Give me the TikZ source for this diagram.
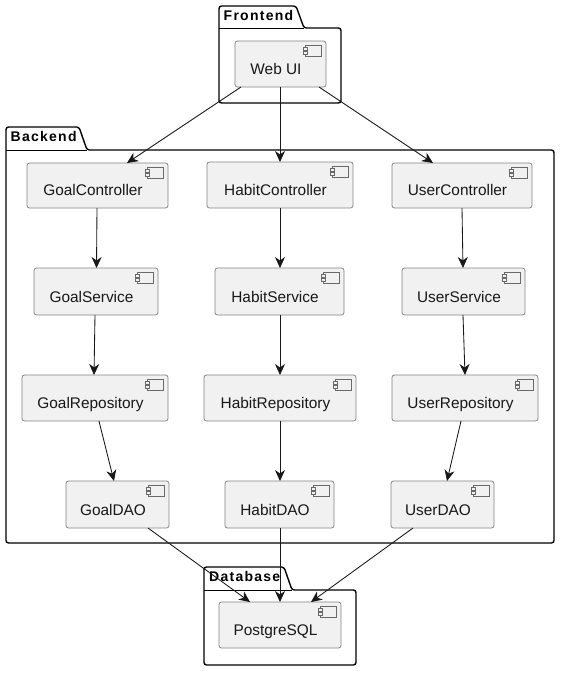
\documentclass[tikz,border=0pt]{standalone}
\usepackage{fontspec}
\setmainfont{Liberation Sans}
\newfontfamily\pkgfont[LetterSpace=9]{Liberation Sans}
\usetikzlibrary{arrows.meta,calc}
\definecolor{compfill}{HTML}{F1F1F1}
\definecolor{compline}{HTML}{858585}
\definecolor{inkdark}{HTML}{181818}
\tikzset{
  compbox/.style={draw=compline,fill=compfill,line width=0.8pt,rounded corners=2.5pt,inner sep=0pt,outer sep=0pt},
  complabel/.style={anchor=base,inner sep=0pt,font=\fontsize{15.4}{18}\selectfont,text=inkdark},
  compicon/.style={draw=inkdark!65,line width=0.6pt,fill=compfill},
  pkgframe/.style={draw=black,line width=1.4pt,fill=white,rounded corners=2.5pt},
  pkglabel/.style={anchor=base west,inner sep=0pt,font=\pkgfont\bfseries\fontsize{14}{16}\selectfont,text=black},
  conn/.style={draw=inkdark,line width=0.85pt,-{Stealth[length=11pt,width=10pt,inset=3.5pt]}},
}
% name, x0, y0, x1, y1, label
\newcommand{\compnode}[6]{%
  \node[compbox,minimum width={(#4-#2)*1pt},minimum height={(#5-#3)*1pt}] (#1) at ({(#2+#4)/2},{(#3+#5)/2}) {};
  \node[complabel] (#1-label) at ({(#2+#4)/2-4.5},{#5-13}) {#6};
  \path[compicon] ({#4-20.5},{#3+4.5}) rectangle ({#4-4.5},{#3+15});
  \path[compicon] ({#4-22.5},{#3+6.5}) rectangle ({#4-18.5},{#3+9.5});
  \path[compicon] ({#4-22.5},{#3+10.5}) rectangle ({#4-18.5},{#3+13.5});
}
% x0, tabtop, tabright, bodytop, x1, y1
\newcommand{\pkgframe}[6]{%
  \path[pkgframe] (#1,#4) -- (#1,#2) -- ({#3-8},#2) -- (#3,#4) -- (#5,#4) -- (#5,#6) -- (#1,#6) -- cycle;
  \draw[black,line width=1pt] (#1,#4) -- (#3,#4);
}
\begin{document}
\begin{tikzpicture}[x=1pt,y=-1pt]
\useasboundingbox[fill=white] (0,0) rectangle (588,673);
% packages
\pkgframe{219}{6}{304}{28}{341}{103}
\node[pkglabel] (pf) at (223.5,20) {Frontend};
\pkgframe{6}{127}{87}{150}{554}{543}
\node[pkglabel] (pb) at (10.5,141.5) {Backend};
\pkgframe{204}{567}{292}{590}{356}{665}
\node[pkglabel] (pd) at (209,581.5) {Database};
% components
\compnode{web}{235}{41}{326}{87}{Web UI}
\compnode{gc}{27}{163}{168}{208}{GoalController}
\compnode{hc}{207}{162}{353}{208}{HabitController}
\compnode{uc}{392}{163}{532}{208}{UserController}
\compnode{gs}{34}{268}{158}{315}{GoalService}
\compnode{hs}{215}{268}{344}{315}{HabitService}
\compnode{us}{402}{268}{525}{315}{UserService}
\compnode{gr}{22}{375}{168}{421}{GoalRepository}
\compnode{hr}{204}{375}{356}{421}{HabitRepository}
\compnode{ur}{392}{375}{538}{421}{UserRepository}
\compnode{gd}{66}{481}{169}{528}{GoalDAO}
\compnode{hd}{225}{481}{334}{528}{HabitDAO}
\compnode{ud}{391}{481}{494}{528}{UserDAO}
\compnode{pg}{219}{602}{341}{648}{PostgreSQL}
% connectors
\draw[conn] ([xshift=-39.5pt]web.south) -- ([xshift=29.5pt]gc.north);
\draw[conn] ([xshift=-0.5pt]web.south) -- (hc.north);
\draw[conn] ([xshift=38.5pt]web.south) -- ([xshift=-29pt]uc.north);
\draw[conn] ([xshift=-0.5pt]gc.south) -- ([xshift=0.5pt]gs.north);
\draw[conn] (hc.south) -- ([xshift=0.5pt]hs.north);
\draw[conn] (uc.south) -- ([xshift=-0.5pt]us.north);
\draw[conn] ([xshift=-1pt]gs.south) -- ([xshift=-1pt]gr.north);
\draw[conn] ([xshift=0.5pt]hs.south) -- (hr.north);
\draw[conn] ([xshift=-0.5pt]us.south) -- ([xshift=0pt]ur.north);
\draw[conn] ([xshift=4pt]gr.south) -- ([xshift=-3.5pt]gd.north);
\draw[conn] (hr.south) -- ([xshift=0.5pt]hd.north);
\draw[conn] ([xshift=-4pt]ur.south) -- ([xshift=4.5pt]ud.north);
\draw[conn] ([xshift=30.5pt]gd.south) -- ([xshift=-30pt]pg.north);
\draw[conn] ([xshift=0.5pt]hd.south) -- (pg.north);
\draw[conn] ([xshift=-29.5pt]ud.south) -- ([xshift=31pt]pg.north);
\end{tikzpicture}
\end{document}
